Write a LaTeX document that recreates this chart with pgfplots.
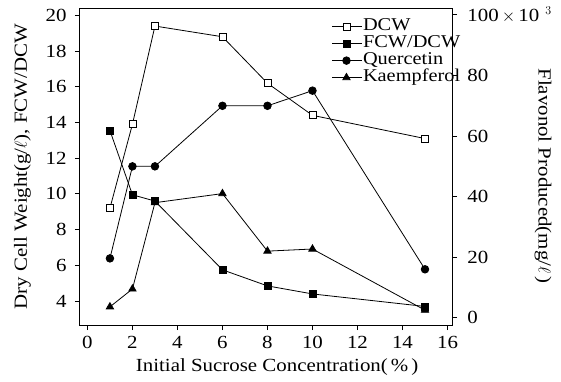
\documentclass[border=0pt]{standalone}
\usepackage{fontspec}
\setmainfont[FakeStretch=1.13]{Liberation Serif}
\usepackage{pgfplots}
\pgfplotsset{compat=1.18}
\usetikzlibrary{calc}
\begin{document}
\fontsize{18.5}{21}\selectfont
\begin{tikzpicture}
\tikzset{
  dcw/.style={black, line width=0.8pt, mark=square*, mark options={fill=white, solid}, mark size=3.5pt},
  fcw/.style={black, line width=0.8pt, mark=square*, mark options={fill=black, solid}, mark size=3.5pt},
  que/.style={black, line width=0.8pt, mark=*, mark options={fill=black, solid}, mark size=3.8pt},
  kae/.style={black, line width=0.8pt, mark=triangle*, mark options={fill=black, solid}, mark size=4.2pt},
}
\pgfplotsset{
  every axis/.append style={scale only axis, width=372pt, height=317pt,
    xmin=-0.33, xmax=16.2, tick align=outside, major tick length=5pt,
    /pgf/number format/assume math mode=true, axis line style={line width=1pt},
    every tick/.style={black, line width=1pt}},
  legend image code/.code={\draw[mark repeat=2,mark phase=2] plot coordinates {(0cm,0cm) (0.5cm,0cm) (1.05cm,0cm)};}
}
\begin{axis}[name=main, ymin=2.66, ymax=20.41, ytick={4,6,...,20}, xtick={0,2,...,16},
  xtick pos=bottom, ytick pos=left, yticklabel style={xshift=-2pt},
  xlabel={Initial Sucrose Concentration(\,\%\,)},
  xlabel style={at={(axis description cs:0.53,0)}, anchor=center, yshift=-42pt},
  ylabel={Dry Cell Weight(g/$\ell$), FCW/DCW},
  ylabel style={at={(axis description cs:-0.155,0.5)}, anchor=center}]
\addplot[dcw] coordinates {(1,9.2)(2,13.9)(3,19.4)(6,18.8)(8,16.2)(10,14.4)(15,13.1)};
\addplot[fcw] coordinates {(1,13.55)(2,9.95)(3,9.6)(6,5.75)(8,4.85)(10,4.4)(15,3.7)};
\end{axis}
\begin{axis}[ymin=-2.4, ymax=102.3, axis x line=none, axis y line*=right,
  ytick={0,20,...,100}, yticklabels={0,20,40,60,80,{100\,$\times$\,10\,\,$^{3}$}},
  yticklabel style={xshift=4pt},
  ylabel={Flavonol Produced(mg/$\ell$\,)},
  ylabel style={rotate=180, at={(axis description cs:1.245,0.47)}, anchor=center},
  legend cell align=left,
  legend style={draw=none, fill=none, at={(1.032,0.975)}, anchor=north east,
    nodes={inner sep=0.5pt, text height=12pt, text depth=4pt}, row sep=0pt,
    font=\fontsize{18}{19}\selectfont}]
\addlegendimage{dcw}\addlegendentry{DCW}
\addlegendimage{fcw}\addlegendentry{FCW/DCW}
\addplot[que] coordinates {(1,19.6)(2,50)(3,50)(6,70)(8,70)(10,75)(15,16)};
\addlegendentry{Quercetin}
\addplot[kae] coordinates {(1,3.6)(2,9.5)(3,38)(6,41)(8,22)(10,22.7)(15,2.5)};
\addlegendentry{Kaempferol}
\end{axis}
\path ($(main.south west)+(-80pt,-52pt)$) rectangle ($(main.north east)+(109pt,8pt)$);
\end{tikzpicture}
\end{document}
